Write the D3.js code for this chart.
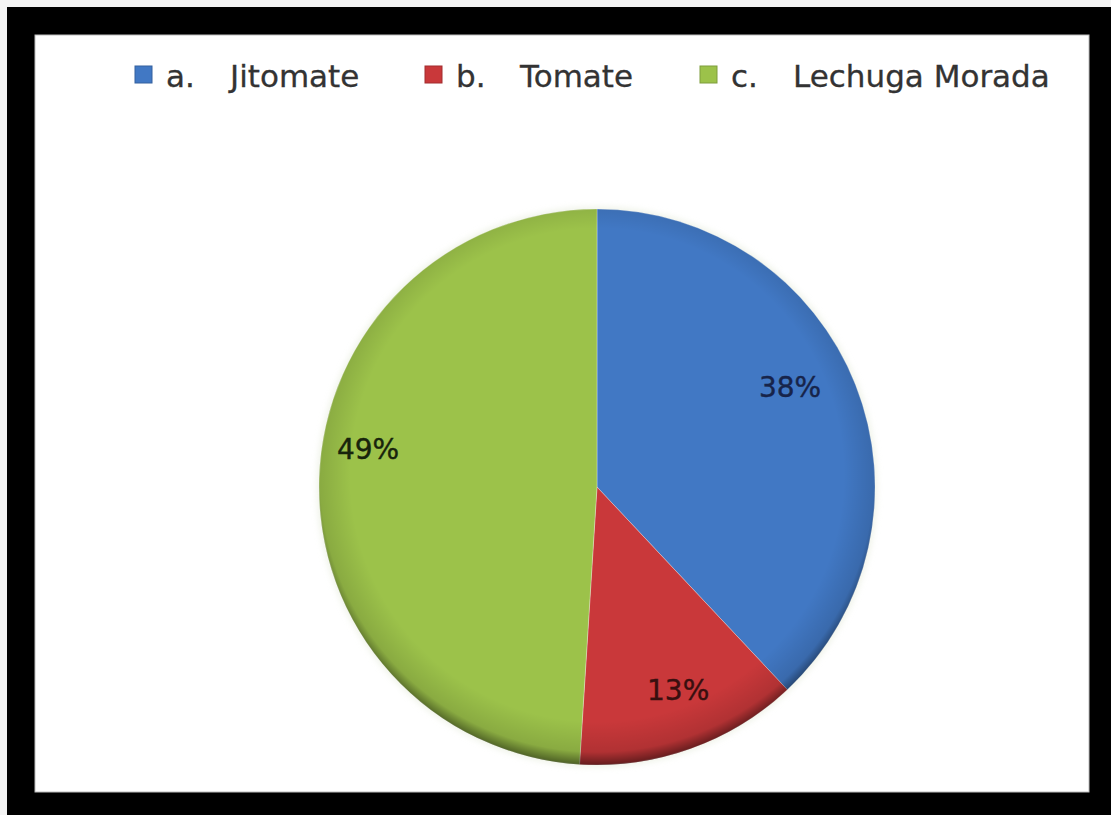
<!DOCTYPE html>
<html>
<head>
<meta charset="utf-8">
<script src="https://cdn.jsdelivr.net/npm/d3@7"></script>
<style>
  html, body { margin: 0; padding: 0; background: #f4f4f4; }
  svg { display: block; }
</style>
</head>
<body>
<svg id="chart" width="1111" height="815"></svg>
<script>
// Survey result: preferred vegetable
const letters = ["a.", "b.", "c."];
const categories = ["Jitomate", "Tomate", "Lechuga Morada"];
const values = [38, 13, 49];
const colors = ["#4178c4", "#c9383a", "#9cc24a"];
const labelInk = ["#17244a", "#380f0f", "#18240c"];

// label placement: radius fraction and small angular nudge (degrees)
const labelRadius = [0.782, 0.786, 0.835];
const labelNudge = [-5.8, -2.0, 7.6];

const W = 1111, H = 815;
const svg = d3.select("#chart");

// black frame and white plot card
svg.append("rect").attr("x", 7).attr("y", 7).attr("width", W - 7).attr("height", H - 7).attr("fill", "#000");
svg.append("rect").attr("x", 35).attr("y", 35).attr("width", 1054).attr("height", 757)
  .attr("fill", "#fff").attr("stroke", "#bdbdbd").attr("stroke-width", 1);

const cx = 597, cy = 487, R = 278;
const defs = svg.append("defs");

// rim shading for a soft bevelled look
const rim = defs.append("radialGradient").attr("id", "rim")
  .attr("gradientUnits", "userSpaceOnUse")
  .attr("cx", cx).attr("cy", cy - 12).attr("r", R + 12);
rim.append("stop").attr("offset", 0.85).attr("stop-color", "#000").attr("stop-opacity", 0);
rim.append("stop").attr("offset", 0.955).attr("stop-color", "#000").attr("stop-opacity", 0.12);
rim.append("stop").attr("offset", 1).attr("stop-color", "#000").attr("stop-opacity", 0.5);

const glow = defs.append("filter").attr("id", "halo").attr("x", "-10%").attr("y", "-10%").attr("width", "120%").attr("height", "120%");
glow.append("feGaussianBlur").attr("stdDeviation", 3);

const pie = d3.pie().sort(null).value(d => d)(values);
const arc = d3.arc().innerRadius(0).outerRadius(R);

const g = svg.append("g").attr("transform", `translate(${cx},${cy})`);

// faint halo behind the pie
g.append("circle").attr("r", R + 2).attr("fill", "#dfe6d0").attr("opacity", 0.5).attr("filter", "url(#halo)");

g.selectAll("path.slice").data(pie).join("path")
  .attr("class", "slice")
  .attr("d", arc)
  .attr("fill", (d, i) => colors[i])
  .attr("stroke", "rgba(255,255,255,0.3)")
  .attr("stroke-width", 1);

g.append("circle").attr("r", R).attr("fill", "url(#rim)")
  .attr("transform", `translate(${-cx},${-cy})`).attr("cx", cx).attr("cy", cy);

// percentage labels
g.selectAll("text.pct").data(pie).join("text")
  .attr("class", "pct")
  .attr("x", (d, i) => {
    const a = (d.startAngle + d.endAngle) / 2 + labelNudge[i] * Math.PI / 180;
    return Math.sin(a) * R * labelRadius[i];
  })
  .attr("y", (d, i) => {
    const a = (d.startAngle + d.endAngle) / 2 + labelNudge[i] * Math.PI / 180;
    return -Math.cos(a) * R * labelRadius[i];
  })
  .attr("dy", "0.36em")
  .attr("text-anchor", "middle")
  .attr("font-family", "DejaVu Sans, sans-serif")
  .attr("font-size", 28)
  .attr("fill", (d, i) => labelInk[i])
  .attr("stroke", (d, i) => labelInk[i])
  .attr("stroke-width", 0.4)
  .text(d => d.data + "%");

// legend row
const legendX = [135, 425, 700];
const leg = svg.append("g").attr("font-family", "DejaVu Sans, sans-serif").attr("font-size", 31)
  .attr("fill", "#333").attr("stroke", "#333").attr("stroke-width", 0.3);
categories.forEach((c, i) => {
  const x = legendX[i];
  leg.append("rect").attr("x", x).attr("y", 66).attr("width", 17).attr("height", 17)
    .attr("fill", colors[i]).attr("stroke", d3.color(colors[i]).darker(0.6)).attr("stroke-width", 1);
  leg.append("text").attr("x", x + 31).attr("y", 87).text(letters[i]);
  leg.append("text").attr("x", x + (i === 2 ? 93 : 95)).attr("y", 87).text(c);
});
</script>
</body>
</html>
